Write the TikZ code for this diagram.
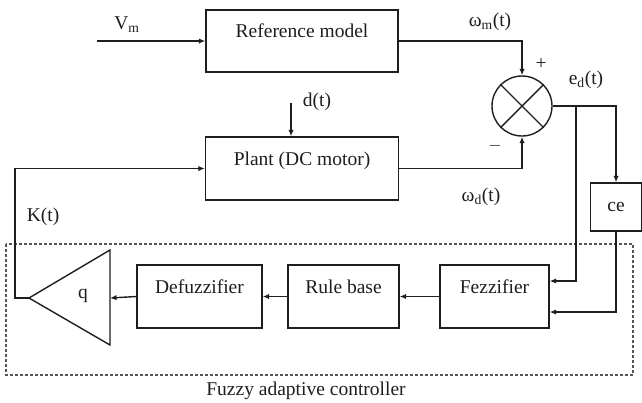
\documentclass[tikz,border=0pt]{standalone}
\usepackage{fontspec}
\setmainfont{Liberation Serif}
\usetikzlibrary{arrows.meta,calc,positioning}
\definecolor{ink}{HTML}{1E1E1E}
\definecolor{frameline}{HTML}{555555}
\newcommand{\blk}{\fontsize{19.5}{22}\selectfont}
\tikzset{
 every node/.append style={font=\blk,text=ink},
 block/.style={draw=ink,line width=1.4pt,fill=white,inner sep=0pt,text depth=20pt},
 junction/.style={draw=ink,line width=1.4pt,circle,minimum size=60pt,inner sep=0pt},
 sig/.style={-{Latex[length=6.5pt,width=5.5pt]},draw=ink,line width=1.4pt},
 wire/.style={draw=ink,line width=1.4pt},
 tag/.style={inner sep=1pt},
 ctrlframe/.style={draw=frameline,line width=1.1pt,dash pattern=on 3pt off 2pt},
}

\begin{document}
\begin{tikzpicture}[x=1pt,y=-1pt]

\useasboundingbox (0,0) rectangle (642,402);
% upper loop
\node[block,minimum width=192pt,minimum height=62pt] (refm) at (302,41) {Reference model};
\node[block,minimum width=193pt,minimum height=63pt] (plant) at (302,168.5) {Plant (DC motor)};
\node[junction] (sum) at (522,106) {};
\draw[wire] (sum.north west) -- (sum.south east) (sum.north east) -- (sum.south west);
\node[block,minimum width=51pt,minimum height=48pt,text depth=0pt] (ce) at (616,207) {ce};
\coordinate (vin) at (97,41);
\coordinate (din) at (291,103);
\coordinate (split) at (576,106);
\draw[sig] (vin) -- (refm.west);
\draw[sig] (refm.east) -| (sum.north);
\draw[sig] (din) -- (din |- plant.north);
\draw[sig] (plant.east) -| (sum.south);
\draw[sig] (sum.east) -| (ce.north);
\node[tag] (vmlab) at (127,25) {V\textsubscript{m}};
\node[tag] (wmlab) at (490,22) {ω\textsubscript{m}(t)};
\node[tag] (plus) at (541,64) {+};
\node[tag,text=frameline] (minus) at (495,148) {–};
\node[tag] (edlab) at (586,80) {e\textsubscript{d}(t)};
\node[tag] (dlab) at (317,102) {d(t)};
\node[tag] (klab) at (43,217) {K(t)};
\node[tag] (wdlab) at (481,197) {ω\textsubscript{d}(t)};

% fuzzy adaptive controller
\draw[ctrlframe] (6,244) rectangle (633,375);
\node[block,minimum width=109pt,minimum height=63pt] (fuzz) at (494.5,296.5) {Fezzifier};
\node[block,minimum width=111pt,minimum height=63pt] (rule) at (343.5,296.5) {Rule base};
\node[block,minimum width=125pt,minimum height=63pt] (defuz) at (199.5,296.5) {Defuzzifier};
\coordinate (qtip) at (29,298);
\coordinate (qin) at (110,298);
\draw[wire,line join=miter] (qtip) -- (110,250) -- (110,345) -- cycle;
\node[tag] (qlab) at (83,296) {q};
\draw[sig] (split) |- ([yshift=15.5pt]fuzz.east);
\draw[sig] (ce.south) |- ([yshift=-15.5pt]fuzz.east);
\draw[sig] (fuzz.west) -- (rule.east);
\draw[sig] (rule.west) -- (defuz.east);
\draw[sig] (defuz.west) -- (qin);
\draw[sig] (qtip) -- (15,298) |- (plant.west);
\node[tag] (ctrllab) at (306,391) {Fuzzy adaptive controller};
\end{tikzpicture}
\end{document}
